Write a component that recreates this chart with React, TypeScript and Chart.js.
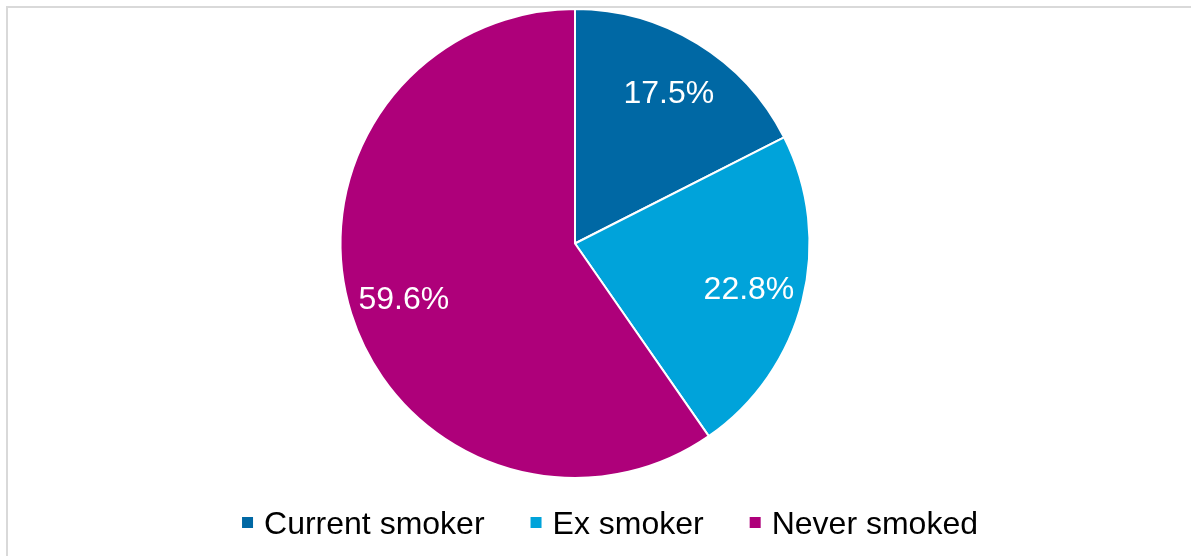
import React, { useEffect, useRef } from "react";
import { Chart, registerables } from "chart.js";

Chart.register(...registerables);

const categories = ["Current smoker", "Ex smoker", "Never smoked"];
const values = [17.5, 22.8, 59.6];
const valueLabels = ["17.5%", "22.8%", "59.6%"];
const colors = ["#0068A4", "#00A3DA", "#AE007A"];

const FONT = '"Liberation Sans", Arial, sans-serif';

const framePlugin = {
  id: "frame",
  beforeDraw(chart: any) {
    const ctx = chart.ctx;
    ctx.save();
    ctx.fillStyle = "#ffffff";
    ctx.fillRect(0, 0, chart.width, chart.height);
    ctx.fillStyle = "#d9d9d9";
    ctx.fillRect(6, 6, chart.width - 6, 2);
    ctx.fillRect(6, 6, 2, chart.height - 6);
    ctx.restore();
  },
};

const labelPlugin = {
  id: "sliceLabels",
  afterDatasetsDraw(chart: any) {
    const ctx = chart.ctx;
    const meta = chart.getDatasetMeta(0);
    ctx.save();
    ctx.font = `32px ${FONT}`;
    ctx.fillStyle = "#ffffff";
    ctx.textAlign = "center";
    ctx.textBaseline = "alphabetic";
    meta.data.forEach((arc: any, i: number) => {
      const mid = (arc.startAngle + arc.endAngle) / 2;
      const d = arc.outerRadius * 0.765;
      ctx.fillText(
        valueLabels[i],
        arc.x + Math.cos(mid) * d,
        arc.y + Math.sin(mid) * d + 12
      );
    });
    ctx.restore();
  },
};

const legendPlugin = {
  id: "customLegend",
  afterDraw(chart: any) {
    const ctx = chart.ctx;
    ctx.save();
    ctx.font = `32px ${FONT}`;
    const box = 11;
    const gapBoxText = 11;
    const gapItems = 46;
    const widths = categories.map((c) => ctx.measureText(c).width);
    const total =
      widths.reduce((a, w) => a + box + gapBoxText + w, 0) + gapItems * (categories.length - 1);
    let x = 610 - total / 2;
    const cy = 522.5;
    ctx.textBaseline = "alphabetic";
    ctx.textAlign = "left";
    categories.forEach((c, i) => {
      ctx.fillStyle = colors[i];
      ctx.fillRect(x, cy - box / 2, box, box);
      x += box + gapBoxText;
      ctx.fillStyle = "#000000";
      ctx.fillText(c, x, cy + 11);
      x += widths[i] + gapItems;
    });
    ctx.restore();
  },
};

export default function App() {
  const ref = useRef<HTMLCanvasElement>(null);
  useEffect(() => {
    if (!ref.current) return;
    const chart = new Chart(ref.current, {
      type: "pie",
      data: {
        labels: categories,
        datasets: [
          {
            data: values,
            backgroundColor: colors,
            borderColor: "#ffffff",
            borderWidth: 2,
          },
        ],
      },
      options: {
        responsive: false,
        animation: false,
        devicePixelRatio: 1,
        layout: { padding: { top: 8, bottom: 77, left: 0, right: 41 } },
        plugins: {
          legend: { display: false },
          tooltip: { enabled: false },
        },
      },
      plugins: [framePlugin, labelPlugin, legendPlugin],
    });
    return () => chart.destroy();
  }, []);
  return (
    <div style={{ position: "fixed", left: 0, top: 0, width: 1191, height: 556 }}>
      <canvas ref={ref} width={1191} height={556} style={{ display: "block" }} />
    </div>
  );
}
